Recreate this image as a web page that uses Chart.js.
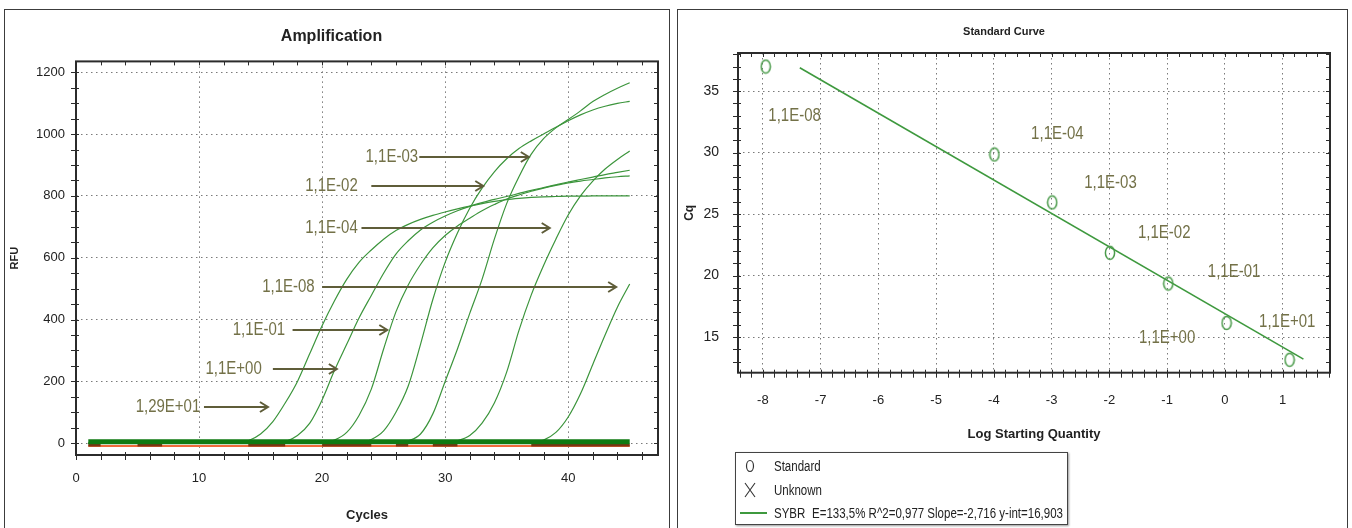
<!DOCTYPE html>
<html>
<head>
<meta charset="utf-8">
<title>Amplification / Standard Curve</title>
<script src="https://cdn.jsdelivr.net/npm/chart.js@4.4.1/dist/chart.umd.min.js"></script>
<style>
    body { margin: 0; background: #fff; width: 1352px; height: 528px; overflow: hidden; position: relative; }
    .panel { position: absolute; top: 9px; height: 560px; border: 1px solid #3c3c3c; border-bottom: none; background: #fff; }
    #ampPanel { left: 4px; width: 664px; }
    #stdPanel { left: 677px; width: 669px; }
    .panel canvas { position: absolute; left: 0; top: 0; }
    #stdLegend {
        position: absolute; left: 735px; top: 452px; width: 331px; height: 71px;
        border: 1px solid #444; box-shadow: 1px 1px 2px #999; background: #fff;
        font: 11.5px "Liberation Sans", Arial, sans-serif; color: #222;
    }
    #stdLegend .row { position: absolute; left: 0; width: 100%; height: 20px; line-height: 20px; white-space: nowrap; }
    #stdLegend svg { position: absolute; top: 0; }
    #stdLegend .txt { position: absolute; left: 38px; display: inline-block; transform: scaleY(1.25); transform-origin: 0 50%; }
</style>
</head>
<body>
<div id="ampPanel" class="panel"><canvas id="ampChart" width="663" height="518"></canvas></div>
<div id="stdPanel" class="panel"><canvas id="stdChart" width="669" height="518"></canvas></div>

<div id="stdLegend">
    <div class="row" style="top:3px">
        <svg width="30" height="20" style="left:0"><ellipse cx="14" cy="10" rx="3.5" ry="5.5" fill="none" stroke="#333" stroke-width="1.2"/></svg>
        <span class="txt">Standard</span>
    </div>
    <div class="row" style="top:27px">
        <svg width="30" height="20" style="left:0"><path d="M9 3 L19 17 M19 3 L9 17" stroke="#333" stroke-width="1.1" fill="none"/></svg>
        <span class="txt">Unknown</span>
    </div>
    <div class="row" style="top:50px">
        <svg width="34" height="20" style="left:0"><path d="M4 10 L31 10" stroke="#3e993e" stroke-width="2"/></svg>
        <span class="txt">SYBR</span>
        <span class="txt" style="left:76px">E=133,5% R^2=0,977 Slope=-2,716 y-int=16,903</span>
    </div>
</div>

<script>
const FONT = '"Liberation Sans", Arial, sans-serif';
const TEXT_STRETCH = 1.2; // the original screenshot is a little taller than wide

// ---------- Amplification (RFU per cycle) ----------
const cycles = [1, 2, 3, 4, 5, 6, 7, 8, 9, 10, 11, 12, 13, 14, 15, 16, 17, 18, 19, 20, 21, 22, 23,
    24, 25, 26, 27, 28, 29, 30, 31, 32, 33, 34, 35, 36, 37, 38, 39, 40, 41, 42, 43, 44, 45];

const rfuWell1 = [0, 0, 0, 0, 0, 0, 0, 0, 0, 0, 0, 0, 0, 8, 30, 70, 130, 200, 290, 380, 460, 530, 585,
    625, 660, 688, 708, 724, 737, 748, 758, 767, 775, 782, 788, 792, 795, 797, 798, 799, 799, 800, 800, 800, 800];
const rfuWell2 = [0, 0, 0, 0, 0, 0, 0, 0, 0, 0, 0, 0, 0, 0, 0, 0, 5, 25, 65, 140, 235, 320, 405,
    478, 550, 612, 655, 690, 715, 735, 752, 766, 778, 789, 798, 808, 818, 827, 836, 845, 853, 861, 869, 876, 883];
const rfuWell3 = [0, 0, 0, 0, 0, 0, 0, 0, 0, 0, 0, 0, 0, 0, 0, 0, 0, 0, 0, 0, 10, 35, 90,
    175, 305, 425, 512, 578, 632, 672, 703, 728, 752, 772, 790, 803, 815, 825, 834, 842, 848, 853, 858, 862, 865];
const rfuWell4 = [0, 0, 0, 0, 0, 0, 0, 0, 0, 0, 0, 0, 0, 0, 0, 0, 0, 0, 0, 0, 0, 0, 0,
    12, 40, 100, 185, 320, 465, 585, 680, 760, 825, 878, 920, 953, 978, 1000, 1022, 1043, 1062, 1078, 1090, 1099, 1106];
const rfuWell5 = [0, 0, 0, 0, 0, 0, 0, 0, 0, 0, 0, 0, 0, 0, 0, 0, 0, 0, 0, 0, 0, 0, 0,
    0, 0, 0, 8, 30, 95, 200, 305, 420, 530, 660, 775, 862, 935, 985, 1020, 1047, 1075, 1105, 1128, 1148, 1166];
const rfuWell6 = [0, 0, 0, 0, 0, 0, 0, 0, 0, 0, 0, 0, 0, 0, 0, 0, 0, 0, 0, 0, 0, 0, 0,
    0, 0, 0, 0, 0, 0, 0, 8, 25, 65, 130, 230, 365, 480, 575, 660, 738, 800, 848, 887, 918, 945];
const rfuWell7 = [0, 0, 0, 0, 0, 0, 0, 0, 0, 0, 0, 0, 0, 0, 0, 0, 0, 0, 0, 0, 0, 0, 0,
    0, 0, 0, 0, 0, 0, 0, 0, 0, 0, 0, 0, 0, 0, 10, 35, 85, 160, 255, 350, 440, 515];

// flat traces of the other wells, piled up on the baseline
const baseGreen = [5, 5, 5, 5, 5, 5, 5, 5, 5, 5, 5, 5, 5, 5, 5, 5, 5, 5, 5, 5, 5, 5, 5,
    5, 5, 5, 5, 5, 5, 5, 5, 5, 5, 5, 5, 5, 5, 5, 5, 5, 5, 5, 5, 5, 5];
const baseBrown = [-6, -6, null, null, -6, -6, -6, null, null, null, null, null, null, -6, -6, -6, -6, null, null, -6, -6, -6, -6,
    -6, null, -6, -6, null, -6, -6, -6, null, null, null, null, null, -6, -6, -6, -6, -6, -6, -6, -6, -6];
const baseOrange = [-9, -9, -9, -9, -9, -9, -9, -9, -9, -9, -9, -9, -9, -9, -9, -9, -9, -9, -9, -9, -9, -9, -9,
    -9, -9, -9, -9, -9, -9, -9, -9, -9, -9, -9, -9, -9, -9, -9, -9, -9, -9, -9, -9, -9, -9];

const ampXTicks = [0, 10, 20, 30, 40];
const ampYTicks = [0, 200, 400, 600, 800, 1000, 1200];

// arrow labels (cycle / RFU where each label sits)
const ampLabels = ['1,1E-03', '1,1E-02', '1,1E-04', '1,1E-08', '1,1E-01', '1,1E+00', '1,29E+01'];
const ampLabelRFU = [925, 832, 696, 505, 366, 239, 117];
const ampLabelEnd = [27.8, 22.9, 22.9, 19.4, 17.0, 15.1, 10.1];
const ampArrowFrom = [27.9, 24.0, 23.2, 20.0, 17.6, 16.0, 10.4];
const ampArrowTo = [36.8, 33.1, 38.5, 43.9, 25.3, 21.2, 15.6];

// ---------- Standard curve ----------
const logQty = [-7.95, -3.99, -2.99, -1.99, -0.98, 0.03, 1.12];
const cqValues = [37.0, 29.85, 25.95, 21.85, 19.35, 16.15, 13.15];
const fitLogQty = [-7.36, 1.36];
const fitCq = [36.9, 13.2];
const stdXTicks = [-8, -7, -6, -5, -4, -3, -2, -1, 0, 1];
const stdYTicks = [15, 20, 25, 30, 35];

const stdLabels = ['1,1E-08', '1,1E-04', '1,1E-03', '1,1E-02', '1,1E-01', '1,1E+00', '1,1E+01'];
const stdLabelX = [-7.45, -2.9, -1.98, -1.05, 0.16, -1.0, 1.08];
const stdLabelCq = [33.0, 31.5, 27.5, 23.45, 20.3, 14.9, 16.2];

const toPoints = (xs, ys) => xs.map((x, i) => ({ x: x, y: ys[i] }));

// text drawn slightly taller than wide, like the screenshot
function tallText(ctx, t, x, y) {
    ctx.save();
    ctx.translate(x, y);
    ctx.scale(1, TEXT_STRETCH);
    ctx.fillText(t, 0, 0);
    ctx.restore();
}

// plot frame with small ticks on all four sides
const frameTicks = {
    id: 'frameTicks',
    afterDraw(chart, args, opts) {
        const { ctx, chartArea: a, scales: { x, y } } = chart;
        ctx.save();
        ctx.strokeStyle = '#2b2b2b';
        ctx.lineWidth = 1;
        ctx.beginPath();
        for (let i = 0; ; i++) {
            const v = opts.xFrom + i * opts.xStep;
            if (v > opts.xTo + 1e-6) break;
            const px = Math.round(x.getPixelForValue(v)) + 0.5;
            ctx.moveTo(px, a.bottom - 3); ctx.lineTo(px, a.bottom + 5);
            ctx.moveTo(px, a.top); ctx.lineTo(px, a.top + 4);
        }
        for (let i = 0; ; i++) {
            const v = opts.yFrom + i * opts.yStep;
            if (v > opts.yTo + 1e-6) break;
            const py = Math.round(y.getPixelForValue(v)) + 0.5;
            ctx.moveTo(a.left - 5, py); ctx.lineTo(a.left + 3, py);
            ctx.moveTo(a.right - 4, py); ctx.lineTo(a.right, py);
        }
        ctx.stroke();
        ctx.lineWidth = 2;
        ctx.strokeRect(a.left, a.top, a.width, a.height);
        ctx.restore();
    }
};

// text + arrow annotations on the amplification plot
const ampArrows = {
    id: 'ampArrows',
    afterDatasetsDraw(chart) {
        const { ctx, scales: { x, y } } = chart;
        ctx.save();
        ctx.font = '15px ' + FONT;
        ctx.textAlign = 'right';
        ctx.textBaseline = 'middle';
        ampLabels.forEach((t, i) => {
            const py = Math.round(y.getPixelForValue(ampLabelRFU[i]));
            ctx.fillStyle = '#737148';
            tallText(ctx, t, x.getPixelForValue(ampLabelEnd[i]), py);
            const x1 = x.getPixelForValue(ampArrowFrom[i]);
            const x2 = x.getPixelForValue(ampArrowTo[i]);
            ctx.strokeStyle = '#5f5d39';
            ctx.lineWidth = 2;
            ctx.beginPath();
            ctx.moveTo(x1, py); ctx.lineTo(x2, py);
            ctx.moveTo(x2 - 8, py - 5); ctx.lineTo(x2, py); ctx.lineTo(x2 - 8, py + 5);
            ctx.stroke();
        });
        ctx.restore();
    }
};

// sample labels on the standard curve
const stdText = {
    id: 'stdText',
    afterDatasetsDraw(chart) {
        const { ctx, scales: { x, y } } = chart;
        ctx.save();
        ctx.font = '15px ' + FONT;
        ctx.textAlign = 'center';
        ctx.textBaseline = 'middle';
        ctx.fillStyle = '#737148';
        stdLabels.forEach((t, i) => {
            tallText(ctx, t, x.getPixelForValue(stdLabelX[i]), y.getPixelForValue(stdLabelCq[i]));
        });
        ctx.restore();
    }
};

function gridAxis(ticks, extra) {
    return Object.assign({
        type: 'linear',
        afterBuildTicks: s => { s.ticks = ticks.map(v => ({ value: v })); },
        grid: { color: '#7a7a7a', lineWidth: 1, drawTicks: false },
        border: { display: false, dash: [1.5, 3.5] }
    }, extra);
}

function tickFont(size) {
    return { padding: 0, color: '#222', font: { family: FONT, size: size }, callback: v => String(v) };
}

// open "O" marker, a bit taller than wide like in the original
function ovalMarker() {
    const c = document.createElement('canvas');
    c.width = 12; c.height = 16;
    const g = c.getContext('2d');
    g.strokeStyle = '#4b9b4b';
    g.lineWidth = 1.5;
    g.beginPath();
    g.ellipse(6, 8, 4.6, 6.6, 0, 0, Math.PI * 2);
    g.stroke();
    return c;
}

function initAmpChart() {
    const wells = [rfuWell1, rfuWell2, rfuWell3, rfuWell4, rfuWell5, rfuWell6, rfuWell7];
    const datasets = [
        { data: toPoints(cycles, baseGreen), borderColor: '#0f7a12', borderWidth: 5 },
        { data: toPoints(cycles, baseBrown), borderColor: '#7a3414', borderWidth: 3 },
        { data: toPoints(cycles, baseOrange), borderColor: '#ee6a3a', borderWidth: 2 }
    ].concat(wells.map(w => ({
        data: toPoints(cycles, w),
        borderColor: '#3c953c',
        borderWidth: 1.2,
        cubicInterpolationMode: 'monotone'
    })));
    datasets.forEach(d => { d.pointRadius = 0; d.fill = false; d.spanGaps = false; });

    new Chart(document.getElementById('ampChart'), {
        type: 'line',
        data: { datasets: datasets },
        options: {
            responsive: false,
            animation: false,
            layout: { padding: { top: 0, right: 10, bottom: 0, left: 0 } },
            scales: {
                x: gridAxis(ampXTicks, {
                    min: 0, max: 47.3,
                    afterFit: s => { s.height = 73; },
                    ticks: Object.assign(tickFont(13), { padding: 16 }),
                    title: { display: true, text: 'Cycles', color: '#222', font: { family: FONT, size: 13, weight: 'bold' }, padding: { top: 0, bottom: 5 } }
                }),
                y: gridAxis(ampYTicks, {
                    min: -38, max: 1235,
                    afterFit: s => { s.width = 71; },
                    ticks: Object.assign(tickFont(13), { padding: 11 }),
                    title: { display: true, text: 'RFU', color: '#222', font: { family: FONT, size: 11, weight: 'bold' }, padding: { top: 3.4, bottom: 0 } }
                })
            },
            plugins: {
                legend: { display: false },
                tooltip: { enabled: false },
                title: {
                    display: true, text: 'Amplification', color: '#222',
                    font: { family: FONT, size: 16, weight: 'bold' },
                    padding: { top: 17.4, bottom: 14.8 }
                },
                frameTicks: { xFrom: 0, xTo: 46, xStep: 2, yFrom: 0, yTo: 1200, yStep: 50 }
            }
        },
        plugins: [frameTicks, ampArrows]
    });
}

function initStdChart() {
    new Chart(document.getElementById('stdChart'), {
        type: 'scatter',
        data: {
            datasets: [
                {
                    label: 'Standard',
                    data: toPoints(logQty, cqValues),
                    pointStyle: ovalMarker(),
                    pointRadius: 6
                },
                {
                    label: 'SYBR',
                    type: 'line',
                    data: toPoints(fitLogQty, fitCq),
                    borderColor: '#3e993e',
                    borderWidth: 1.6,
                    pointRadius: 0,
                    fill: false
                }
            ]
        },
        options: {
            responsive: false,
            animation: false,
            layout: { padding: { top: 0, right: 17, bottom: 0, left: 0 } },
            scales: {
                x: gridAxis(stdXTicks, {
                    min: -8.43, max: 1.82,
                    afterFit: s => { s.height = 155.3; },
                    ticks: Object.assign(tickFont(13), { padding: 20 }),
                    title: { display: true, text: 'Log Starting Quantity', color: '#222', font: { family: FONT, size: 13, weight: 'bold' }, padding: { top: 0, bottom: 86 } }
                }),
                y: gridAxis(stdYTicks, {
                    min: 12.1, max: 38.1,
                    afterFit: s => { s.width = 60; },
                    ticks: Object.assign(tickFont(14), { padding: 19 }),
                    title: { display: true, text: 'Cq', color: '#222', font: { family: FONT, size: 12, weight: 'bold' }, padding: { top: 4.8, bottom: 0 } }
                })
            },
            plugins: {
                legend: { display: false },
                tooltip: { enabled: false },
                title: {
                    display: true, text: 'Standard Curve', color: '#222',
                    font: { family: FONT, size: 11, weight: 'bold' },
                    padding: { top: 15.4, bottom: 14.4 }
                },
                frameTicks: { xFrom: -8.4, xTo: 1.8, xStep: 0.2, yFrom: 13, yTo: 38, yStep: 1 }
            }
        },
        plugins: [frameTicks, stdText]
    });
}

window.addEventListener('load', () => {
    initAmpChart();
    initStdChart();
});
</script>
</body>
</html>
